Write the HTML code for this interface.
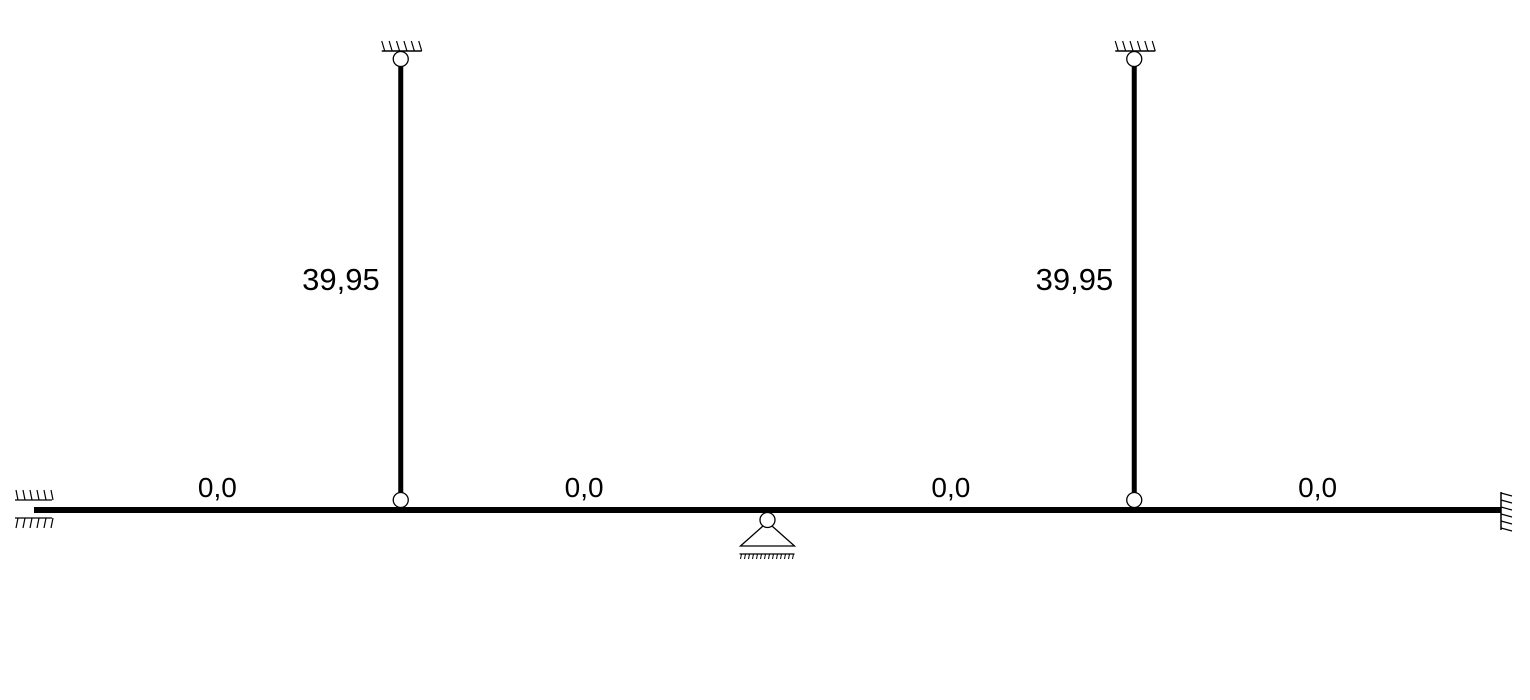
<!DOCTYPE html>
<html><head><meta charset="utf-8"><style>
html,body{margin:0;padding:0;background:#fff;}
svg{display:block;font-family:"Liberation Sans",Arial,sans-serif;}
</style></head><body>
<svg id="chart" width="1530" height="700" viewBox="0 0 1530 700" xmlns="http://www.w3.org/2000/svg"></svg>
<script>
// member values
const beamValues = ["0,0", "0,0", "0,0", "0,0"];
const columnValues = ["39,95", "39,95"];
// geometry: node x positions (model units), column positions
const beamNodes = [0, 1, 2, 3, 4];
const columnNodes = [1, 3];

const NS = "http://www.w3.org/2000/svg";
const svg = document.getElementById("chart");
const x0 = 34, x1 = 1501, yBeam = 510, yTop = 59, yHinge = 500;
const xs = n => x0 + (x1 - x0) * n / 4;
function el(tag, attrs, parent) {
  const e = document.createElementNS(NS, tag);
  for (const k in attrs) e.setAttribute(k, attrs[k]);
  (parent || svg).appendChild(e);
  return e;
}
// beam
const beam = el("line", {x1: x0, y1: yBeam, x2: x1, y2: yBeam, stroke: "#000", "stroke-width": 6});


// beam labels
beamValues.forEach((v, i) => {
  const t = el("text", {x: (xs(beamNodes[i]) + xs(beamNodes[i + 1])) / 2, y: 497, "font-size": 28, "text-anchor": "middle"});
  t.textContent = v;
  
  
});
// columns
columnNodes.forEach((n, i) => {
  const x = xs(n);
  const g = el("g", {});
  
  
  el("line", {x1: x, y1: yTop, x2: x, y2: yHinge, stroke: "#000", "stroke-width": 5}, g);
  // top support
  el("line", {x1: x - 19, y1: 51, x2: x + 21, y2: 51, stroke: "#000", "stroke-width": 1.5}, g);
  for (let k = 0; k < 6; k++) {
    const hx = x - 16 + k * 7.4;
    el("line", {x1: hx, y1: 51, x2: hx - 3, y2: 41, stroke: "#000", "stroke-width": 1.2}, g);
  }
  el("circle", {cx: x, cy: yTop, r: 7.5, fill: "#fff", stroke: "#000", "stroke-width": 1.3}, g);
  el("circle", {cx: x, cy: yHinge, r: 7.5, fill: "#fff", stroke: "#000", "stroke-width": 1.3}, g);
  const t = el("text", {x: x - 21, y: 290, "font-size": 31, "text-anchor": "end"});
  t.textContent = columnValues[i];
  
  
});
// left fixed support
const ls = el("g", {});


el("line", {x1: 15, y1: 500, x2: 52, y2: 500, stroke: "#000", "stroke-width": 1.3}, ls);
el("line", {x1: 15, y1: 518, x2: 52, y2: 518, stroke: "#000", "stroke-width": 1.3}, ls);
for (let k = 0; k < 6; k++) {
  const hx = 16 + k * 7;
  el("line", {x1: hx, y1: 490, x2: hx + 2, y2: 500, stroke: "#000", "stroke-width": 1.2}, ls);
  el("line", {x1: hx + 2, y1: 518, x2: hx, y2: 528, stroke: "#000", "stroke-width": 1.2}, ls);
}
// right fixed support
const rs = el("g", {});


el("line", {x1: 1501, y1: 492, x2: 1501, y2: 530, stroke: "#000", "stroke-width": 1.5}, rs);
for (let k = 0; k < 6; k++) {
  const hy = 493 + k * 7;
  el("line", {x1: 1501, y1: hy, x2: 1512, y2: hy + 3, stroke: "#000", "stroke-width": 1.2}, rs);
}
// middle pinned support
const ms = el("g", {});


const xm = xs(2);
el("polygon", {points: `${xm},522 ${xm - 27},546 ${xm + 27},546`, fill: "#fff", stroke: "#000", "stroke-width": 1.3}, ms);
el("circle", {cx: xm, cy: 520, r: 7.5, fill: "#fff", stroke: "#000", "stroke-width": 1.3}, ms);
el("line", {x1: xm - 28, y1: 554, x2: xm + 27, y2: 554, stroke: "#000", "stroke-width": 1.3}, ms);
for (let k = 0; k < 14; k++) {
  const hx = xm - 27 + k * 4;
  el("line", {x1: hx + 1, y1: 554, x2: hx, y2: 559, stroke: "#000", "stroke-width": 1}, ms);
}
</script>
</body></html>
